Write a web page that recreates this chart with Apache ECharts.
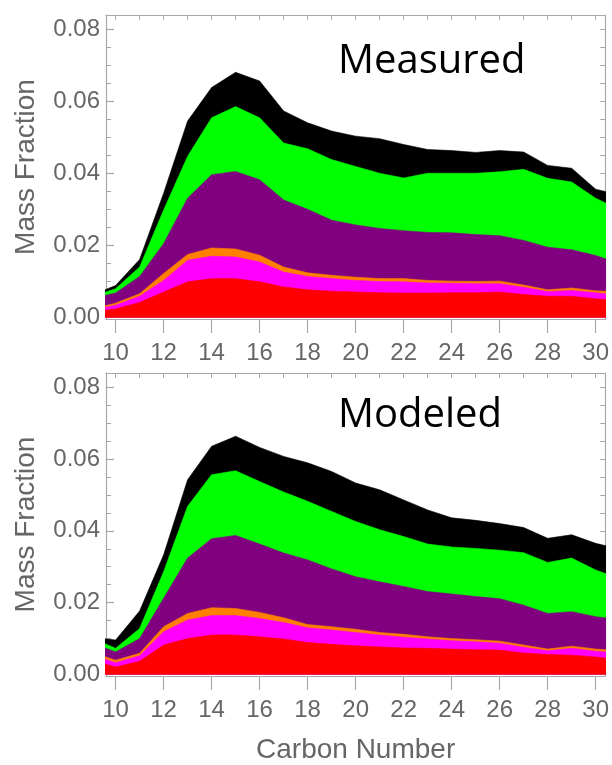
<!DOCTYPE html>
<html>
<head>
<meta charset="utf-8">
<script src="https://cdn.jsdelivr.net/npm/echarts@6/dist/echarts.min.js"></script>
<style>html,body{margin:0;padding:0;background:#fff;}#c{width:612px;height:765px;}</style>
</head>
<body>
<div id="c"></div>
<script>
// Carbon numbers (9 and 31 lie just outside the visible window)
var carbon = [9,10,11,12,13,14,15,16,17,18,19,20,21,22,23,24,25,26,27,28,29,30,31];
var xTickLabels = [10,12,14,16,18,20,22,24,26,28,30];
var yTickLabels = [0,0.02,0.04,0.06,0.08];

// Measured panel: cumulative upper boundary of each coloured band
var measBlack   = [0.0062,0.0089,0.0161,0.0345,0.0545,0.0638,0.0680,0.0656,0.0573,0.0540,0.0517,0.0503,0.0496,0.0480,0.0466,0.0463,0.0458,0.0463,0.0459,0.0422,0.0414,0.0356,0.0340];
var measGreen   = [0.0057,0.0080,0.0140,0.0298,0.0447,0.0554,0.0585,0.0554,0.0484,0.0468,0.0438,0.0419,0.0400,0.0387,0.0400,0.0400,0.0400,0.0404,0.0411,0.0386,0.0376,0.0331,0.0299];
var measPurple  = [0.0053,0.0068,0.0114,0.0205,0.0331,0.0396,0.0405,0.0382,0.0326,0.0300,0.0270,0.0257,0.0247,0.0241,0.0236,0.0235,0.0230,0.0227,0.0214,0.0195,0.0188,0.0172,0.0150];
var measOrange  = [0.0024,0.0040,0.0066,0.0122,0.0175,0.0193,0.0190,0.0173,0.0140,0.0124,0.0117,0.0112,0.0108,0.0108,0.0103,0.0101,0.0100,0.0101,0.0090,0.0077,0.0082,0.0074,0.0071];
var measMagenta = [0.0022,0.0034,0.0059,0.0103,0.0159,0.0170,0.0168,0.0154,0.0126,0.0114,0.0108,0.0103,0.0100,0.0099,0.0096,0.0095,0.0094,0.0094,0.0084,0.0072,0.0075,0.0069,0.0061];
var measRed     = [0.0016,0.0024,0.0042,0.0071,0.0099,0.0108,0.0108,0.0099,0.0085,0.0077,0.0073,0.0071,0.0069,0.0068,0.0068,0.0069,0.0069,0.0071,0.0064,0.0059,0.0059,0.0052,0.0047];

// Modeled panel: cumulative upper boundary of each coloured band
var modBlack   = [0.0104,0.0096,0.0177,0.0333,0.0542,0.0635,0.0663,0.0632,0.0607,0.0589,0.0565,0.0533,0.0514,0.0486,0.0458,0.0436,0.0429,0.0420,0.0409,0.0379,0.0389,0.0365,0.0349];
var modGreen   = [0.0102,0.0073,0.0128,0.0286,0.0468,0.0556,0.0567,0.0537,0.0508,0.0482,0.0454,0.0426,0.0403,0.0384,0.0363,0.0355,0.0351,0.0346,0.0339,0.0312,0.0324,0.0291,0.0267];
var modPurple  = [0.0088,0.0063,0.0100,0.0212,0.0324,0.0378,0.0387,0.0363,0.0338,0.0319,0.0294,0.0272,0.0258,0.0245,0.0231,0.0224,0.0217,0.0211,0.0193,0.0170,0.0175,0.0161,0.0153];
var modOrange  = [0.0062,0.0040,0.0059,0.0133,0.0170,0.0186,0.0184,0.0173,0.0158,0.0139,0.0133,0.0126,0.0117,0.0112,0.0105,0.0100,0.0097,0.0093,0.0082,0.0071,0.0079,0.0071,0.0066];
var modMagenta = [0.0055,0.0033,0.0052,0.0119,0.0152,0.0164,0.0164,0.0156,0.0145,0.0130,0.0124,0.0117,0.0110,0.0104,0.0099,0.0094,0.0091,0.0087,0.0076,0.0066,0.0073,0.0065,0.0060];
var modRed     = [0.0040,0.0021,0.0037,0.0082,0.0100,0.0110,0.0110,0.0105,0.0099,0.0089,0.0084,0.0080,0.0077,0.0074,0.0073,0.0071,0.0069,0.0068,0.0060,0.0056,0.0054,0.0049,0.0041];

var bandColors = ['#000000','#00ff00','#800080','#ff8000','#ff00ff','#ff0000'];

var xMinor = [];
for (var i = 10; i <= 30; i++) xMinor.push(i);
var yMinor = [];
for (var j = 0; j <= 16; j++) yMinor.push(+(j * 0.005).toFixed(3));

var axisGray = '#a8a8a8';
var labelGray = '#666666';
var fontFam = '"Liberation Sans", Arial, sans-serif';

var grids = [
  {left: 106, right: 5, top: 15, bottom: 446},
  {left: 106, right: 5, top: 373, bottom: 88}
];

var xAxes = [], yAxes = [], series = [];
[0,1].forEach(function (g) {
  var base = xAxes.length;
  xAxes.push({
    gridIndex: g, type: 'value', position: 'bottom', min: 9.6, max: 30.4,
    axisLine: {show: true, onZero: false, lineStyle: {color: axisGray, width: 1.2}},
    axisTick: {show: true, customValues: xTickLabels, length: 14, lineStyle: {color: axisGray, width: 1.2}},
    axisLabel: {show: true, customValues: xTickLabels, fontSize: 24, color: labelGray, margin: 22, fontFamily: fontFam},
    splitLine: {show: false},
    name: g === 1 ? 'Carbon Number' : '', nameLocation: 'middle', nameGap: 60,
    nameTextStyle: {fontSize: 28, color: labelGray, fontFamily: fontFam}
  });
  xAxes.push({
    gridIndex: g, type: 'value', position: 'top', min: 9.6, max: 30.4,
    axisLine: {show: true, onZero: false, lineStyle: {color: axisGray, width: 1.2}},
    axisTick: {show: true, inside: true, customValues: xMinor, length: 5, lineStyle: {color: axisGray}},
    axisLabel: {show: false}, splitLine: {show: false}
  });
  var yb = yAxes.length;
  yAxes.push({
    gridIndex: g, type: 'value', position: 'left', min: -0.0004, max: 0.0839,
    axisLine: {show: true, onZero: false, lineStyle: {color: axisGray, width: 1.2}},
    axisTick: {show: true, inside: true, customValues: yTickLabels, length: 8, lineStyle: {color: axisGray, width: 1.2}},
    axisLabel: {show: true, customValues: yTickLabels, fontSize: 24, color: labelGray, margin: 6, fontFamily: fontFam,
      formatter: function (v) { return v.toFixed(2); }},
    splitLine: {show: false},
    name: 'Mass Fraction', nameLocation: 'middle', nameGap: 66, nameRotate: 90,
    nameTextStyle: {fontSize: 28, color: labelGray, fontFamily: fontFam}
  });
  yAxes.push({
    gridIndex: g, type: 'value', position: 'left', min: -0.0004, max: 0.0839,
    axisLine: {show: false},
    axisTick: {show: true, inside: true, customValues: yMinor, length: 5, lineStyle: {color: axisGray}},
    axisLabel: {show: false}, splitLine: {show: false}
  });
  yAxes.push({
    gridIndex: g, type: 'value', position: 'right', min: -0.0004, max: 0.0839,
    axisLine: {show: true, onZero: false, lineStyle: {color: axisGray, width: 1.2}},
    axisTick: {show: true, inside: true, customValues: yMinor, length: 5, lineStyle: {color: axisGray}},
    axisLabel: {show: false}, splitLine: {show: false}
  });
  var bands = g === 0
    ? [measBlack, measGreen, measPurple, measOrange, measMagenta, measRed]
    : [modBlack, modGreen, modPurple, modOrange, modMagenta, modRed];
  bands.forEach(function (arr, k) {
    series.push({
      type: 'line', xAxisIndex: base, yAxisIndex: yb,
      data: carbon.map(function (c, n) { return [c, arr[n]]; }),
      showSymbol: false, symbol: 'none', clip: true, silent: true,
      lineStyle: {width: 0.6, color: bandColors[k]},
      areaStyle: {color: bandColors[k], opacity: 1},
      z: 2 + k * 0.01
    });
  });
});

var chart = echarts.init(document.getElementById('c'), null, {renderer: 'canvas'});
chart.setOption({
  animation: false,
  backgroundColor: '#ffffff',
  grid: grids,
  xAxis: xAxes,
  yAxis: yAxes,
  series: series,
  title: [
    {text: 'Measured', left: 333, top: 37, textStyle: {fontSize: 40, fontWeight: 'normal', color: '#000', fontFamily: '"Open Sans", sans-serif'}},
    {text: 'Modeled', left: 333, top: 391, textStyle: {fontSize: 40, fontWeight: 'normal', color: '#000', fontFamily: '"Open Sans", sans-serif'}}
  ]
});
</script>
</body>
</html>
